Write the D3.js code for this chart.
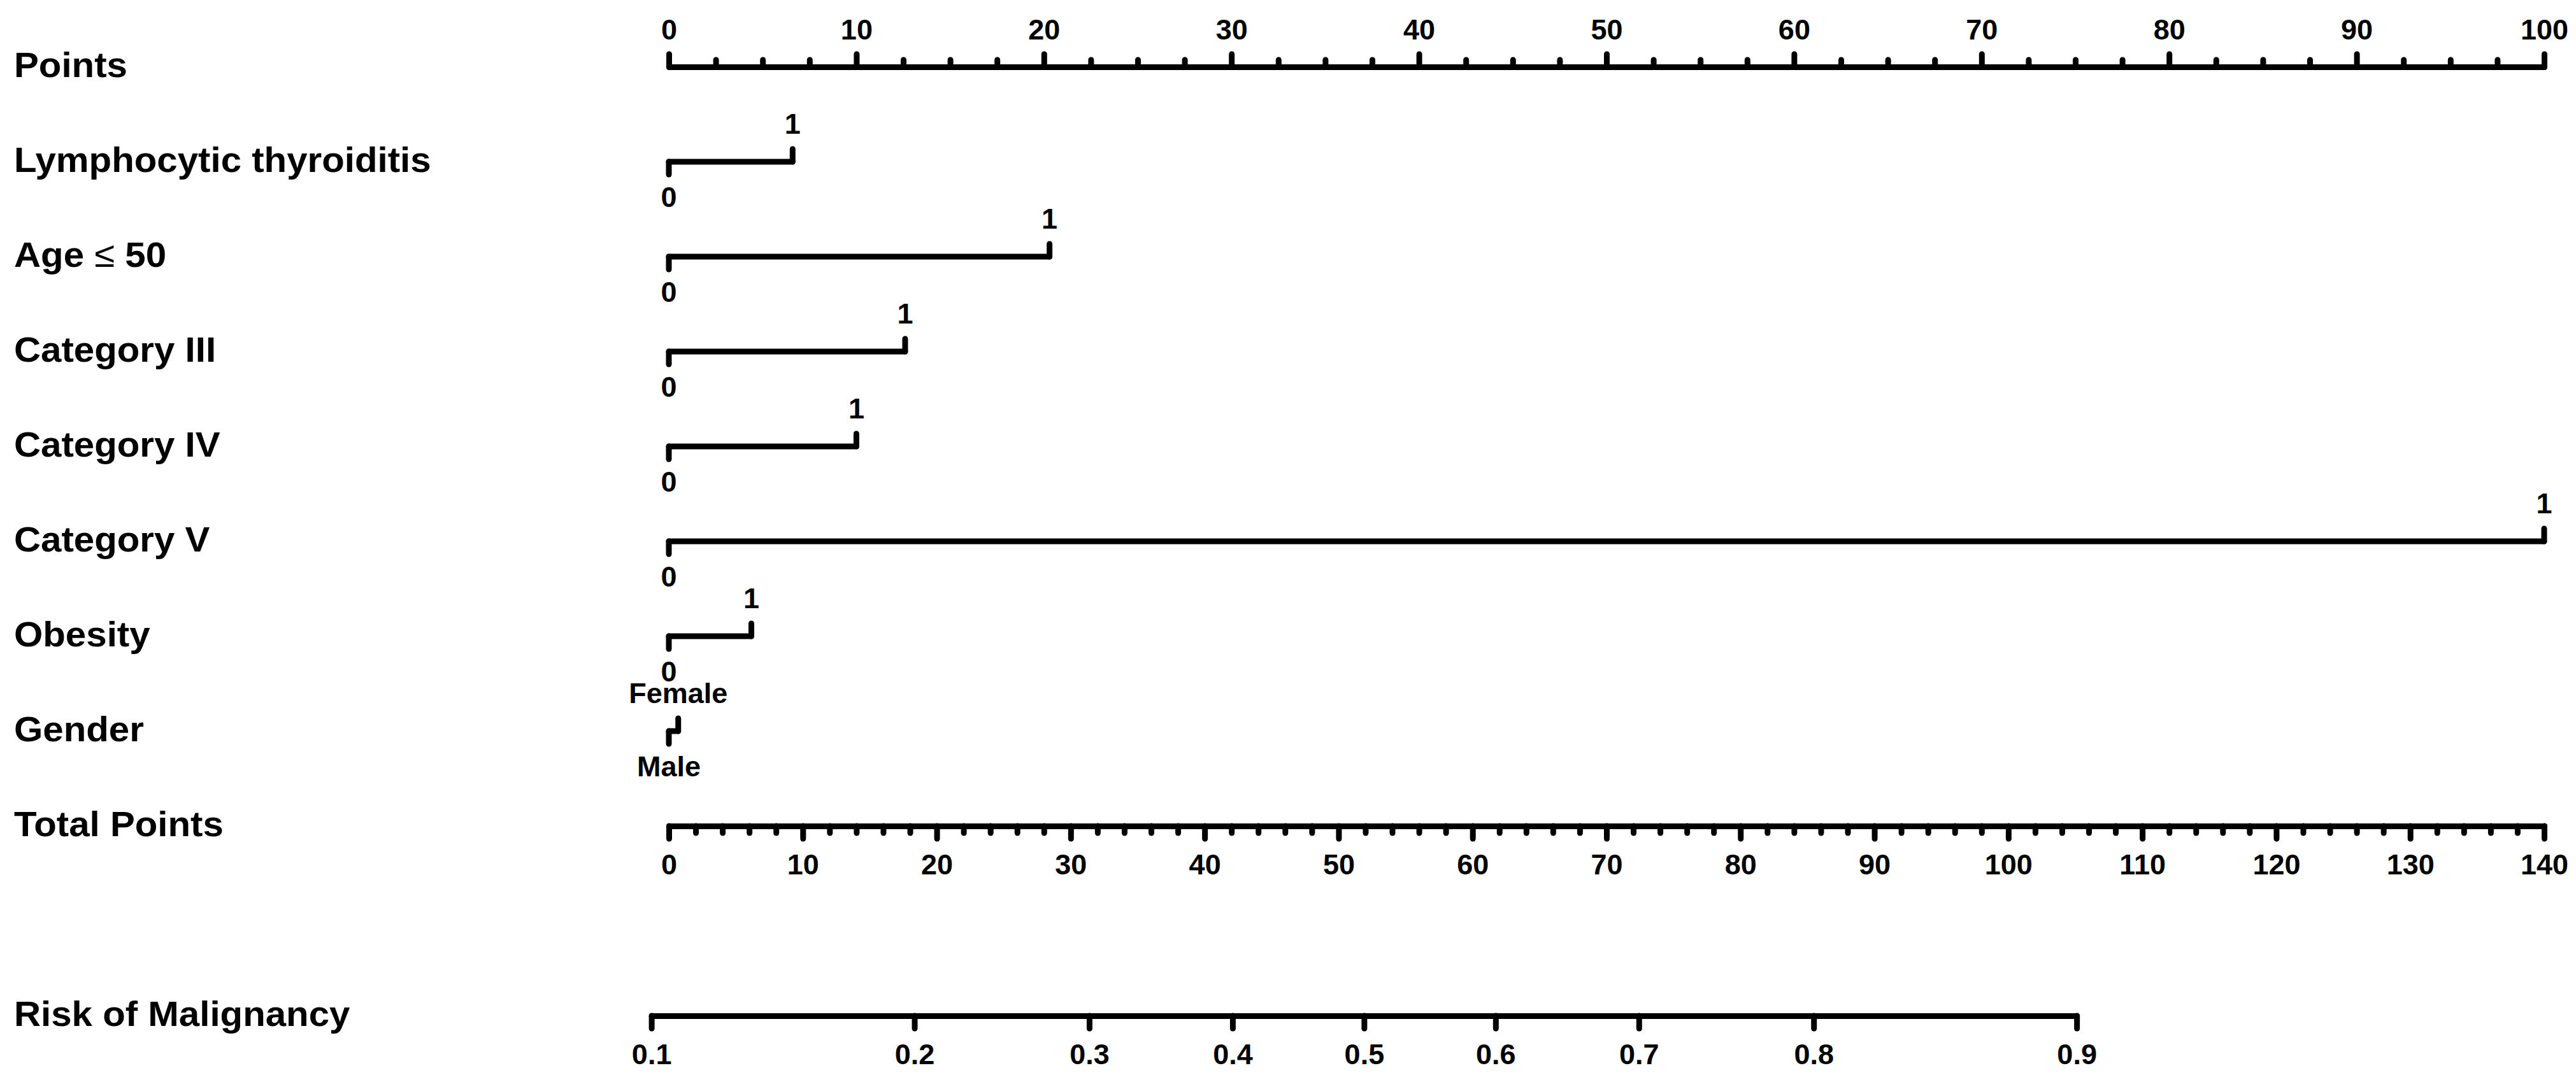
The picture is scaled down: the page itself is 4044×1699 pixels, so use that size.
<!DOCTYPE html>
<html>
<head>
<meta charset="utf-8">
<script src="https://cdn.jsdelivr.net/npm/d3@7/dist/d3.min.js"></script>
<style>
  html, body { margin: 0; padding: 0; background: #ffffff; }
  svg { display: block; }
  text { font-family: "Liberation Sans", Arial, sans-serif; font-weight: bold; fill: #000; }
</style>
</head>
<body>
<svg id="chart" width="4044" height="1699"></svg>
<script>
// ---------------- data ----------------
const pointsTicks = [0, 10, 20, 30, 40, 50, 60, 70, 80, 90, 100];
const pointsMinorStep = 2.5;
const totalTicks = [0, 10, 20, 30, 40, 50, 60, 70, 80, 90, 100, 110, 120, 130, 140];
const totalMinorStep = 2;

const predictors = ["Lymphocytic thyroiditis", "Age \u2264 50", "Category III", "Category IV", "Category V", "Obesity", "Gender"];
const lowLevels = ["0", "0", "0", "0", "0", "0", "Male"];
const highLevels = ["1", "1", "1", "1", "1", "1", "Female"];
const lowPoints = [0, 0, 0, 0, 0, 0, 0];
const highPoints = [6.6, 20.3, 12.6, 10.0, 100, 4.4, 0.5];

const riskTicks = [0.1, 0.2, 0.3, 0.4, 0.5, 0.6, 0.7, 0.8, 0.9];
// logistic link: total points at 50% risk and slope per total point
const riskMidTotal = 51.9;
const riskSlope = 0.0413;

// ---------------- layout ----------------
const W = 4044, H = 1699;
const xLeft = 1050, xRight = 3994;
const labelX = 22;
const rowTop = 105, rowStep = 149;
const sw = 9;
const majorLen = 20, minorLen = 11;
const fsLabel = 56, fsTick = 45;
const stretch = 1.04;

const svg = d3.select("#chart");
svg.append("rect").attr("width", W).attr("height", H).attr("fill", "#fff");

const xPts = d3.scaleLinear().domain([0, 100]).range([xLeft, xRight]);
const xTot = d3.scaleLinear().domain([0, 140]).range([xLeft, xRight]);
const rowY = i => rowTop + i * rowStep;

function rowLabel(txt, y) {
  const t = svg.append("text")
    .attr("transform", `translate(${labelX},${y + 16}) scale(${stretch},1)`)
    .attr("font-size", fsLabel);
  if (txt.indexOf("\u2264") >= 0) {
    const parts = txt.split("\u2264");
    t.append("tspan").text(parts[0]);
    t.append("tspan").attr("font-weight", "normal").text("\u2264");
    t.append("tspan").text(parts[1]);
  } else {
    t.text(txt);
  }
}

function styleAxis(g) {
  g.select(".domain").attr("stroke", "#000").attr("stroke-width", sw).attr("stroke-linecap", "round");
  g.selectAll(".tick line").attr("stroke", "#000").attr("stroke-width", sw).attr("stroke-linecap", "round");
  g.selectAll(".tick text").attr("font-size", fsTick).attr("font-family", "Liberation Sans, Arial, sans-serif")
    .attr("font-weight", "bold").attr("fill", "#000");
}

// ---------- Points axis ----------
rowLabel("Points", rowY(0));
const ptsMinor = d3.range(0, 100 + 1e-9, pointsMinorStep).filter(v => pointsTicks.indexOf(v) < 0);
const gPm = svg.append("g").attr("transform", `translate(0,${rowY(0)})`)
  .call(d3.axisTop(xPts).tickValues(ptsMinor).tickSize(minorLen).tickSizeOuter(0).tickFormat(""));
styleAxis(gPm);
const gP = svg.append("g").attr("transform", `translate(0,${rowY(0)})`)
  .call(d3.axisTop(xPts).tickValues(pointsTicks).tickSize(majorLen).tickPadding(23).tickSizeOuter(0).tickFormat(d3.format("d")));
styleAxis(gP);

// ---------- predictor rows ----------
predictors.forEach((name, i) => {
  const y = rowY(i + 1);
  rowLabel(name, y);
  const x0 = xPts(lowPoints[i]), x1 = xPts(highPoints[i]);
  const g = svg.append("g");
  g.append("line").attr("x1", x0).attr("x2", x1).attr("y1", y).attr("y2", y)
    .attr("stroke", "#000").attr("stroke-width", sw).attr("stroke-linecap", "round");
  g.append("line").attr("x1", x0).attr("x2", x0).attr("y1", y).attr("y2", y + majorLen)
    .attr("stroke", "#000").attr("stroke-width", sw).attr("stroke-linecap", "round");
  g.append("line").attr("x1", x1).attr("x2", x1).attr("y1", y).attr("y2", y - majorLen)
    .attr("stroke", "#000").attr("stroke-width", sw).attr("stroke-linecap", "round");
  g.append("text").attr("x", x0).attr("y", y + 71).attr("text-anchor", "middle")
    .attr("font-size", fsTick).text(lowLevels[i]);
  g.append("text").attr("x", x1).attr("y", y - 44).attr("text-anchor", "middle")
    .attr("font-size", fsTick).text(highLevels[i]);
});

// ---------- Total Points axis ----------
const yTot = rowY(predictors.length + 1);
rowLabel("Total Points", yTot);
const totMinor = d3.range(0, 140 + 1e-9, totalMinorStep).filter(v => totalTicks.indexOf(v) < 0);
const gTm = svg.append("g").attr("transform", `translate(0,${yTot})`)
  .call(d3.axisBottom(xTot).tickValues(totMinor).tickSize(minorLen).tickSizeOuter(0).tickFormat(""));
styleAxis(gTm);
const gT = svg.append("g").attr("transform", `translate(0,${yTot})`)
  .call(d3.axisBottom(xTot).tickValues(totalTicks).tickSize(majorLen).tickPadding(24).tickSizeOuter(0).tickFormat(d3.format("d")));
styleAxis(gT);

// ---------- Risk axis ----------
const yRisk = rowY(predictors.length + 3);
rowLabel("Risk of Malignancy", yRisk);
const riskToTotal = p => riskMidTotal + Math.log(p / (1 - p)) / riskSlope;
const tLo = riskToTotal(riskTicks[0]), tHi = riskToTotal(riskTicks[riskTicks.length - 1]);
const riskAxisScale = d3.scaleLinear().domain([tLo, tHi]).range([xTot(tLo), xTot(tHi)]);
const gR = svg.append("g").attr("transform", `translate(0,${yRisk})`)
  .call(d3.axisBottom(riskAxisScale)
    .tickValues(riskTicks.map(riskToTotal)).tickSize(majorLen).tickPadding(24).tickSizeOuter(0)
    .tickFormat((d, i) => d3.format(".1f")(riskTicks[i])));
styleAxis(gR);
</script>
</body>
</html>
